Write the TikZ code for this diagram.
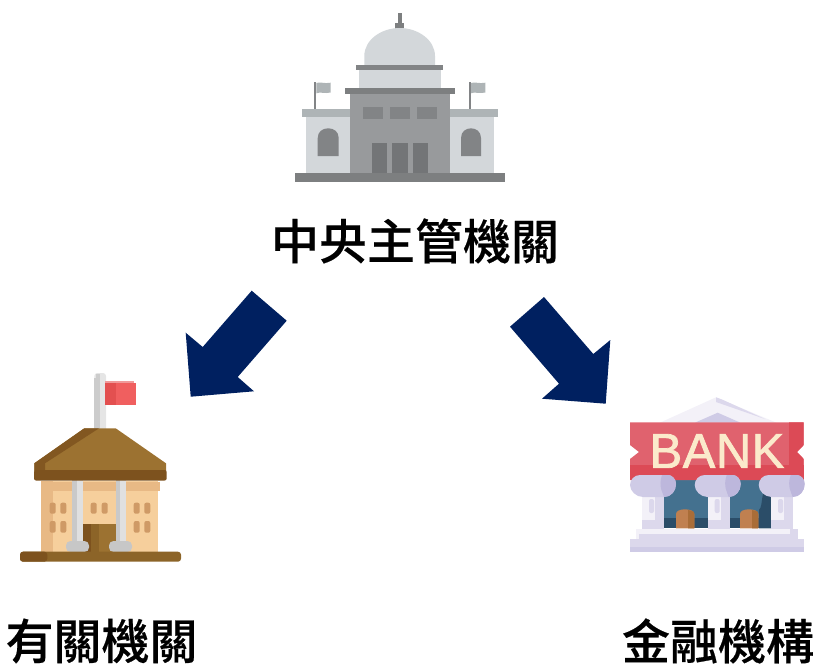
\documentclass[tikz,border=0pt]{standalone}
\usepackage{fontspec}
\setmainfont{Noto Sans CJK TC Medium}[FakeBold=0.4]
\definecolor{navyarrow}{HTML}{002060}
\definecolor{gA}{HTML}{7D7F80}
\definecolor{gB}{HTML}{D3D7DA}
\definecolor{gC}{HTML}{AEB4B6}
\definecolor{gD}{HTML}{989A9C}
\definecolor{gE}{HTML}{828486}
\definecolor{gF}{HTML}{737577}
\definecolor{rA}{HTML}{9C7231}
\definecolor{rB}{HTML}{7D521E}
\definecolor{rC}{HTML}{8C6428}
\definecolor{wA}{HTML}{F6CF9C}
\definecolor{wB}{HTML}{E8B985}
\definecolor{wC}{HTML}{CF9A66}
\definecolor{bA}{HTML}{E0626E}
\definecolor{bB}{HTML}{DC4A56}
\definecolor{lA}{HTML}{F3F1F8}
\definecolor{lB}{HTML}{DCD8EC}
\definecolor{lC}{HTML}{CFCBE6}
\definecolor{lD}{HTML}{BDB7DC}
\definecolor{blA}{HTML}{44718F}
\definecolor{blB}{HTML}{2B4D68}
\definecolor{bankText}{HTML}{FBEACB}
\definecolor{fA}{HTML}{F05F5F}
\definecolor{fB}{HTML}{E35050}
\definecolor{fC}{HTML}{F09A9A}
\definecolor{dA}{HTML}{C08050}
\definecolor{dB}{HTML}{A96D38}
\tikzset{
  bigarrow/.style={fill=navyarrow,draw=none},
  caption/.style={font=\fontsize{48}{48}\selectfont,text=black,inner sep=0pt,anchor=center},
  winS/.style={fill=wC,rounded corners=2pt},
}
\begin{document}
\begin{tikzpicture}[x=1pt,y=-1pt]
\useasboundingbox (0,0) rectangle (816,664);
% ---------- government building
\fill[gA] (398.3,13.3) rectangle (401.7,24);
\fill[gA] (395,23.3) rectangle (404,29);
\fill[gB] (364.3,66) -- (364.3,56) .. controls (364.3,40) and (381,28) .. (399.7,28) .. controls (418,28) and (435,40) .. (435,56) -- (435,66) -- cycle;
\fill[gB] (359,69) rectangle (441,89);
\fill[gE] (356,65) rectangle (442.7,70.3);
\fill[gB] (306,116) rectangle (350,174);
\fill[gB] (450,116) rectangle (494,174);
\fill[gC] (302.3,109) rectangle (350,117.3);
\fill[gC] (450,109) rectangle (497.7,117.3);
\fill[gD] (350,93) rectangle (450,174);
\fill[gA] (345,88.3) rectangle (455,94.3);
\foreach \xa/\xb in {362.7/383.3,389.7/410.3,416.7/437.3}
  \fill[gE] (\xa,106.7) rectangle (\xb,118.7);
\foreach \xa/\xb in {371.7/387.3,392.3/408,412.7/428.3}
  \fill[gF] (\xa,142.7) rectangle (\xb,173.5);
\foreach \xa/\xb in {317.7/338.7,461/481}
  \fill[gE] (\xa,156) -- (\xa,138) .. controls (\xa,131.5) and ({\xa+5},128.3) .. ({(\xa+\xb)/2},128.3) .. controls ({\xb-5},128.3) and (\xb,131.5) .. (\xb,138) -- (\xb,156) -- cycle;
\foreach \px in {314.3,469}{
  \fill[gE] (\px,82.3) rectangle ({\px+2},109);
  \fill[gC] ({\px+2},83) .. controls ({\px+6},81.5) and ({\px+10},84) .. ({\px+16.4},82.7) -- ({\px+16.4},92.5) .. controls ({\px+10},94) and ({\px+6},91.5) .. ({\px+2},93.3) -- cycle;
}
\fill[gA] (295,173.3) rectangle (505,181.7);
% ---------- school
\fill[black!10,rounded corners=3pt] (94.3,373) rectangle (106,432);
\fill[black!20] (94.3,378) rectangle (100,432);
\fill[black!20] (96,374) rectangle (100,378);
\fill[fA] (105.3,383) rectangle (136,405);
\fill[fB] (105.3,383) rectangle (116,405);
\fill[fC] (105.3,381) rectangle (134,383);
\fill[wA] (41,481) rectangle (158.3,552);
\fill[wB] (41,481) rectangle (52.7,552);
\fill[wB] (41,481.7) rectangle (160,491);
\foreach \xa in {49.7,60.3,90.7,101.7,133.7,144.3}
  \fill[winS] (\xa,502.7) rectangle ({\xa+6},513.7);
\foreach \xa in {49.7,60.3,133.7,144.3}
  \fill[winS] (\xa,521) rectangle ({\xa+6},532.7);
\fill[rA] (83,523.7) rectangle (115.7,552);
\fill[rC] (90.7,523.7) rectangle (99,552);
\fill[rB] (83,523.7) rectangle (90.7,552);
\foreach \xa in {72,115.7}{
  \fill[black!12] (\xa,480) rectangle ({\xa+10.5},543);
  \fill[black!21] (\xa,480) rectangle ({\xa+4.5},543);
}
\foreach \xa in {66,109}
  \fill[black!22,rounded corners=4.5pt] (\xa,541) rectangle ({\xa+23},552);
\fill[rA] (84.3,428.3) -- (115.7,428.3) -- (166,463.3) -- (166,471) -- (34.3,471) -- (34.3,463.3) -- cycle;
\fill[rB!85!rA] (84.3,428.3) -- (99,428.3) -- (45,463.3) -- (45,471) -- (34.3,471) -- (34.3,463.3) -- cycle;
\fill[rB,rounded corners=2pt] (34,470) rectangle (166.7,480.5);
\fill[rC,rounded corners=3pt] (20,551.7) rectangle (181,561.7);
\fill[rB,rounded corners=3pt] (20,551.7) -- (47.3,551.7) -- (47.3,561.7) -- (20,561.7) -- cycle;
% ---------- bank
\fill[lA] (716,397.3) -- (776,422.5) -- (660.3,422.5) -- cycle;
\fill[lB] (716,397.3) -- (722,399.5) -- (765,419) -- (716,402) -- cycle;
\fill[lC] (695.3,422.5) -- (717.7,412.7) -- (740,422.5) -- cycle;
\fill[blA] (664.3,476) rectangle (707.7,528.3);
\fill[blA] (730,476) rectangle (771,528.3);
\fill[blB] (759,510) .. controls (764,505) and (759,490) .. (771,482) -- (771,528.3) -- (759,528.3) -- cycle;
\fill[blB] (664.3,518.3) rectangle (707.7,528.3);
\fill[blB] (730,518.3) rectangle (771,528.3);
\foreach \xa in {676,740}{
  \fill[dA] (\xa,528.3) -- (\xa,514) .. controls (\xa,511) and ({\xa+4},509.3) .. ({\xa+9},509.3) .. controls ({\xa+14},509.3) and ({\xa+18.3},511) .. ({\xa+18.3},514) -- ({\xa+18.3},528.3) -- cycle;
  \fill[dB] ({\xa+12},528.3) -- ({\xa+12},510) .. controls ({\xa+15},510) and ({\xa+18.3},511) .. ({\xa+18.3},514) -- ({\xa+18.3},528.3) -- cycle;
}
\fill[bA] (630,422.3) -- (803.7,422.3) -- (803.7,445) -- (797,452) -- (803.7,459) -- (803.7,480) -- (630,480) -- (630,459) -- (639,452) -- (630,445) -- cycle;
\fill[bB] (789,422.3) -- (803.7,422.3) -- (803.7,445) -- (797,452) -- (803.7,459) -- (803.7,470) -- (789,470) -- cycle;
\fill[bB] (630,465) -- (803.7,465) -- (803.7,480) -- (630,480) -- cycle;
\foreach \xa/\cx in {642/653,707.7/717.7,771/781.7}{
  \fill[lB] (\xa,490) rectangle ({\xa+22},528.5);
  \fill[lA] (\xa,495) rectangle ({\xa+13},520);
  \fill[lB,rounded corners=2pt] ({\xa+7},499) rectangle ({\xa+12},513);
  \fill[lC] ({\cx-13},475) .. controls ({\cx-19},475) and ({\cx-23},480) .. ({\cx-23},485) .. controls ({\cx-23},491) and ({\cx-17},497) .. ({\cx-10},497) -- ({\cx+11},497) .. controls ({\cx+18},497) and ({\cx+23},491) .. ({\cx+23},484) .. controls ({\cx+23},479) and ({\cx+19},475) .. ({\cx+15},475) -- cycle;
  \fill[lD] ({\cx+9},475) -- ({\cx+15},475) .. controls ({\cx+19},475) and ({\cx+23},479) .. ({\cx+23},484) .. controls ({\cx+23},491) and ({\cx+18},497) .. ({\cx+11},497) .. controls ({\cx+10},493) and ({\cx+5},487) .. ({\cx+9},475) -- cycle;
}
\fill[lA] (636,529) rectangle (797.7,539);
\fill[lB] (790,529) rectangle (797.7,539);
\fill[lB] (639,534) rectangle (790,539);
\fill[lB] (630,539) rectangle (803.7,547);
\fill[lC] (630,547) rectangle (803.7,552.3);
\node[inner sep=0pt,anchor=center,text=bankText] (banktext) at (717,451) {\fontspec{Liberation Sans}[FakeBold=1.5,LetterSpace=1]\fontsize{49}{49}\selectfont BANK};
% ---------- arrows
\fill[bigarrow] (251.7,290.7) -- (286.7,320.7) -- (237.7,377) -- (254,391.3) -- (190.7,396.7) -- (185.7,332.7) -- (202.7,347) -- cycle;
\fill[bigarrow] (544,297) -- (510,326.7) -- (559,383.7) -- (542,398.7) -- (605.7,403.7) -- (610.3,340) -- (593.3,354) -- cycle;
% ---------- captions
\node[caption] (central) at (415,241) {中央主管機關};
\node[caption] (related) at (101.5,641) {有關機關};
\node[caption] (finance) at (718,641) {金融機構};
\end{tikzpicture}
\end{document}
